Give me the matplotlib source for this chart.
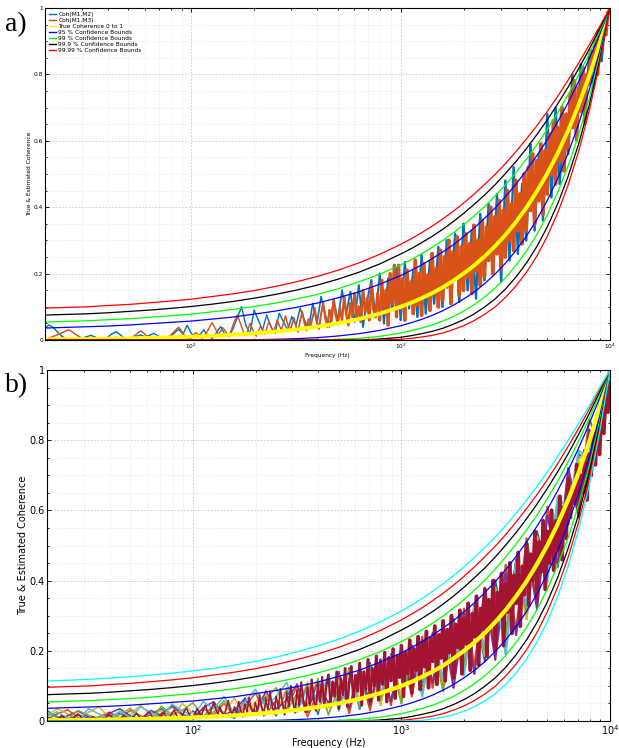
import numpy as np
import matplotlib.pyplot as plt
from matplotlib.collections import LineCollection
from matplotlib.lines import Line2D
from matplotlib.ticker import MultipleLocator, LogLocator, NullFormatter, FuncFormatter

# smooth curves: frequency (Hz) and values in thousandths of coherence
freq = [20, 25, 32, 40, 50, 63, 79, 100, 126, 158, 200, 251, 316, 398, 501, 631, 794,
        1000, 1122, 1259, 1413, 1585, 1778, 1995, 2239, 2512, 2818, 3162, 3548, 3981,
        4467, 5012, 5623, 6310, 7079, 7943, 8913, 10000]
true_coh = [2, 2.5, 3.2, 4, 5, 6.3, 7.9, 10, 12.6, 15.8, 20, 25.1, 31.6, 39.8, 50.1, 63.1,
            79.4, 100, 112, 126, 141, 158, 178, 200, 224, 251, 282, 316, 355, 398, 447,
            501, 562, 631, 708, 794, 891, 1000]

up_95 = [36, 38, 40, 42, 45, 49, 53, 57, 63, 69, 78, 87, 98, 111, 127, 145, 168, 194, 210,
         226, 245, 265, 286, 311, 337, 366, 397, 431, 469, 510, 555, 603, 657, 715, 778,
         846, 920, 1000]
lo_95 = [0] * 10 + [1, 2, 4, 7, 12, 19, 29, 43, 52, 62, 74, 88, 104, 123, 144, 169, 198,
                    231, 269, 312, 362, 420, 486, 563, 650, 751, 867, 1000]
up_99 = [54, 56, 58, 61, 64, 68, 73, 78, 85, 92, 101, 111, 123, 137, 154, 175, 198, 226,
         242, 260, 279, 299, 322, 346, 373, 401, 433, 467, 504, 544, 587, 634, 684, 739,
         798, 861, 929, 1000]
lo_99 = [0] * 14 + [2, 5, 11, 21, 28, 36, 45, 57, 70, 87, 106, 129, 156, 187, 224, 267,
                    317, 376, 445, 524, 618, 726, 853, 1000]
up_999 = [75, 77, 79, 82, 86, 90, 95, 101, 108, 116, 126, 137, 150, 165, 183, 204, 229,
          259, 275, 293, 312, 333, 356, 381, 408, 436, 467, 501, 537, 576, 618, 663, 711,
          762, 817, 875, 937, 1000]
lo_999 = [0] * 16 + [3, 8, 13, 19, 26, 35, 47, 61, 78, 99, 123, 153, 189, 231, 281, 340,
                     410, 493, 590, 705, 841, 1000]
up_9999 = [96, 98, 100, 104, 107, 112, 117, 123, 131, 139, 149, 161, 175, 191, 210, 232,
           258, 288, 305, 323, 343, 364, 387, 412, 439, 468, 498, 531, 567, 605, 645, 688,
           734, 783, 834, 888, 944, 1000]
lo_9999 = [0] * 17 + [2, 5, 9, 14, 21, 31, 43, 58, 77, 99, 128, 162, 203, 252, 312, 383,
                      467, 568, 688, 831, 1000]
up_99999 = [114, 116, 119, 122, 126, 131, 136, 143, 150, 159, 170, 182, 197, 214, 233, 256,
            283, 313, 331, 349, 370, 391, 414, 439, 466, 494, 524, 557, 592, 629, 668, 710,
            754, 800, 848, 898, 950, 1000]
lo_99999 = [0] * 18 + [1, 2, 6, 11, 18, 28, 41, 57, 78, 104, 137, 177, 225, 284, 356, 442,
                       546, 671, 821, 1000]

# estimated coherence, panel a (thousandths), log-spaced 20 Hz .. 10 kHz
coh_m1m3 = [2, 4, 6, 8, 11, 13, 16, 18, 21, 24,
            27, 30, 29, 25, 20, 16, 12, 8, 5, 3,
            2, 1, 1, 2, 4, 6, 5, 3, 2, 1,
            1, 2, 4, 6, 8, 7, 5, 3, 2, 1,
            2, 5, 9, 14, 19, 24, 27, 22, 16, 10,
            5, 3, 2, 4, 8, 6, 3, 2, 5, 9,
            14, 20, 27, 33, 38, 30, 21, 12, 6, 4,
            8, 14, 22, 18, 11, 6, 10, 19, 30, 42,
            52, 40, 27, 18, 26, 37, 30, 20, 12, 28,
            46, 62, 75, 58, 40, 23, 14, 30, 50, 36,
            20, 12, 26, 41, 30, 18, 35, 55, 42, 25,
            38, 60, 44, 30, 52, 72, 48, 28, 45, 66,
            40, 25, 58, 85, 52, 30, 62, 44, 70, 95,
            55, 34, 78, 112, 66, 40, 90, 58, 120, 75,
            48, 95, 60, 130, 80, 45, 110, 70, 140, 62,
            100, 55, 150, 85, 125, 60, 165, 95, 70, 140,
            60, 180, 90, 150, 45, 200, 110, 225, 70, 225,
            95, 185, 60, 210, 120, 175, 80, 240, 105, 200,
            75, 230, 130, 195, 90, 260, 140, 215, 100, 270,
            120, 250, 160, 300, 110, 265, 185, 310, 135, 280,
            150, 320, 190, 290, 140, 345, 210, 300, 165, 360,
            190, 340, 240, 400, 200, 370, 260, 420, 215, 390,
            250, 450, 300, 410, 270, 480, 330, 440, 290, 500,
            330, 520, 390, 560, 350, 540, 420, 590, 380, 570,
            440, 620, 500, 660, 470, 640, 540, 700, 510, 680,
            580, 740, 640, 780, 610, 760, 690, 820, 660, 800,
            770, 870, 820, 900, 800, 930, 880, 960, 920, 985,
            1000]
coh_m1m2 = [36, 45, 38, 25, 12, 4, 1, 1, 2, 6,
            10, 14, 9, 4, 2, 8, 18, 25, 16, 6,
            3, 6, 12, 15, 9, 14, 20, 13, 6, 2,
            8, 22, 32, 18, 44, 20, 8, 16, 30, 12,
            5, 22, 40, 18, 10, 35, 68, 100, 45, 20,
            90, 60, 30, 75, 40, 20, 80, 55, 30, 70,
            45, 95, 60, 35, 110, 50, 130, 75, 40, 120,
            60, 150, 80, 145, 55, 165, 40, 120, 180, 70,
            200, 50, 185, 90, 215, 60, 235, 95, 210, 70,
            255, 80, 240, 110, 280, 100, 300, 140, 320, 115,
            350, 150, 330, 125, 380, 180, 410, 200, 440, 175,
            480, 240, 520, 260, 470, 300, 590, 330, 560, 360,
            680, 430, 700, 470, 650, 560, 800, 600, 830, 650,
            860, 760, 930, 840, 970, 1000]

# estimated coherence, panel b (thousandths)
coh_b7 = [10, 8, 5, 3, 2, 4, 9, 15, 12, 6,
          3, 2, 5, 10, 16, 20, 14, 8, 4, 2,
          3, 7, 12, 9, 5, 2, 1, 4, 8, 13,
          18, 12, 6, 3, 2, 5, 10, 16, 11, 5,
          3, 8, 15, 22, 14, 7, 4, 12, 20, 26,
          17, 9, 5, 3, 10, 18, 25, 15, 7, 12,
          22, 30, 19, 10, 6, 15, 28, 36, 22, 12,
          8, 20, 34, 26, 14, 30, 45, 28, 16, 35,
          52, 34, 18, 40, 24, 12, 36, 58, 30, 20,
          40, 22, 55, 30, 12, 48, 26, 66, 35, 18,
          52, 28, 74, 38, 15, 62, 33, 85, 44, 20,
          70, 36, 92, 48, 18, 80, 42, 100, 55, 24,
          88, 45, 110, 58, 26, 95, 50, 118, 64, 30,
          105, 55, 125, 40, 98, 132, 48, 112, 70, 140,
          35, 120, 75, 150, 42, 110, 155, 60, 130, 85,
          165, 45, 140, 90, 175, 55, 150, 100, 185, 60,
          170, 105, 195, 55, 180, 115, 205, 65, 185, 125,
          215, 70, 195, 135, 230, 80, 205, 145, 240, 90,
          225, 155, 255, 95, 235, 170, 270, 105, 245, 180,
          285, 115, 260, 195, 300, 125, 275, 210, 315, 135,
          290, 220, 335, 145, 305, 240, 355, 160, 320, 260,
          375, 185, 345, 275, 400, 200, 365, 295, 420, 215,
          390, 310, 450, 250, 415, 335, 480, 270, 440, 360,
          505, 330, 475, 400, 540, 350, 510, 425, 570, 375,
          540, 450, 600, 430, 570, 490, 640, 460, 610, 520,
          690, 580, 665, 620, 730, 600, 700, 650, 770, 630,
          760, 700, 820, 730, 850, 760, 880, 820, 920, 880,
          1000]
coh_b1 = [30, 12, 4, 18, 8, 2, 15, 22, 6, 3,
          20, 35, 10, 4, 28, 12, 45, 20, 8, 60,
          25, 70, 15, 90, 30, 105, 20, 125, 40, 150,
          35, 165, 50, 190, 60, 215, 80, 250, 105, 290,
          140, 330, 170, 400, 240, 460, 300, 540, 420, 630,
          560, 760, 740, 900, 1000]
coh_b2 = [5, 20, 32, 10, 3, 12, 25, 8, 30, 15,
          4, 22, 40, 15, 8, 35, 18, 50, 12, 40,
          80, 18, 60, 35, 100, 12, 85, 40, 130, 22,
          140, 30, 175, 45, 200, 70, 240, 95, 275, 120,
          320, 160, 380, 200, 445, 260, 520, 330, 610, 460,
          700, 600, 860, 790, 1000]
coh_b3 = [15, 35, 20, 6, 25, 40, 10, 5, 20, 45,
          15, 30, 8, 50, 22, 10, 40, 25, 65, 15,
          55, 75, 20, 95, 45, 110, 30, 120, 55, 145,
          60, 150, 45, 185, 70, 205, 95, 245, 110, 280,
          150, 325, 185, 380, 225, 445, 290, 525, 410, 615,
          590, 745, 780, 890, 1000]
coh_b4 = [8, 3, 15, 28, 12, 4, 22, 35, 14, 6,
          30, 14, 45, 20, 6, 38, 55, 18, 30, 65,
          20, 85, 35, 60, 105, 25, 115, 50, 140, 35,
          155, 45, 175, 55, 210, 85, 230, 110, 270, 95,
          305, 135, 375, 175, 420, 245, 500, 320, 585, 440,
          720, 580, 830, 800, 1000]
coh_b5 = [22, 10, 5, 30, 16, 8, 3, 18, 36, 12,
          5, 42, 18, 30, 52, 14, 26, 58, 22, 48,
          30, 62, 95, 28, 78, 45, 120, 18, 95, 140,
          40, 160, 65, 180, 50, 200, 100, 235, 85, 265,
          160, 310, 200, 360, 250, 430, 310, 505, 440, 600,
          620, 730, 760, 880, 1000]
coh_b6 = [12, 26, 8, 2, 35, 20, 6, 28, 10, 40,
          24, 8, 48, 30, 12, 55, 35, 70, 20, 55,
          90, 40, 70, 110, 25, 95, 60, 130, 30, 120,
          50, 150, 75, 175, 120, 210, 70, 240, 125, 260,
          130, 320, 210, 370, 190, 450, 330, 510, 400, 640,
          600, 770, 750, 910, 1000]

matlab = ['#0072BD', '#D95319', '#EDB120', '#7E2F8E', '#77AC30', '#4DBEEE', '#A2142F']


def k(v):
    return np.asarray(v, dtype=float) / 1000.0


def noisy_x(v):
    return np.logspace(1.3, 4.0, len(v))


def noisy_line(ax, v, color, lw_lo, lw_hi):
    # the trace gets denser toward high frequency: thicken it there so it reads as a band
    x = noisy_x(v)
    pts = np.column_stack([x, k(v)])
    segs = np.stack([pts[:-1], pts[1:]], axis=1)
    widths = np.interp(np.log10(x[:-1]), [2.4, 3.1], [lw_lo, lw_hi])
    ax.add_collection(LineCollection(segs, colors=color, linewidths=widths,
                                     capstyle='round', joinstyle='round'))


def style(ax, fs):
    ax.set_xscale('log')
    ax.set_xlim(20, 1e4)
    ax.set_ylim(0, 1)
    ax.yaxis.set_major_locator(MultipleLocator(0.2))
    ax.yaxis.set_minor_locator(MultipleLocator(0.05))
    ax.yaxis.set_major_formatter(FuncFormatter(lambda v, p: '%g' % round(v, 2)))
    ax.xaxis.set_minor_locator(LogLocator(base=10, subs=np.arange(2, 10)))
    ax.xaxis.set_minor_formatter(NullFormatter())
    ax.tick_params(which='both', direction='in', top=True, right=True,
                   labelsize=fs, width=0.6, pad=1.5)
    ax.tick_params(which='major', length=3)
    ax.tick_params(which='minor', length=1.5)
    ax.grid(True, which='major', ls=(0, (2, 2)), color='#c8c8c8', lw=0.6)
    ax.grid(True, which='minor', ls=(0, (1, 2)), color='#d8d8d8', lw=0.5)
    ax.set_axisbelow(True)
    for s in ax.spines.values():
        s.set_linewidth(0.8)
    ax.set_xlabel('Frequency (Hz)', fontsize=fs, labelpad=1)
    ax.set_ylabel('True & Estimated Coherence', fontsize=fs, labelpad=1)


def bounds(ax, lw, cyan):
    ax.plot(freq, k(up_95), color='#0000FF', lw=lw)
    ax.plot(freq, k(lo_95), color='#0000FF', lw=lw)
    ax.plot(freq, k(up_99), color='#00FF00', lw=lw)
    ax.plot(freq, k(lo_99), color='#00FF00', lw=lw)
    ax.plot(freq, k(up_999), color='black', lw=lw)
    ax.plot(freq, k(lo_999), color='black', lw=lw)
    ax.plot(freq, k(up_9999), color='#FF0000', lw=lw)
    ax.plot(freq, k(lo_9999), color='#FF0000', lw=lw)
    if cyan:
        ax.plot(freq, k(up_99999), color='#00FFFF', lw=lw)
        ax.plot(freq, k(lo_99999), color='#00FFFF', lw=lw)


fig = plt.figure(figsize=(6.19, 7.48), dpi=100)

# panel a
ax1 = fig.add_axes([45 / 619, 1 - 340 / 748, 565 / 619, 332 / 748])
noisy_line(ax1, coh_m1m2, matlab[0], 1.0, 1.6)
noisy_line(ax1, coh_m1m3, matlab[1], 1.0, 2.6)
ax1.plot(freq, k(true_coh), color='#FFFF00', lw=2.8)
bounds(ax1, 0.9, False)
style(ax1, 4.2)
legend_items = [('Coh(M1,M2)', matlab[0]), ('Coh(M1,M3)', matlab[1]),
                ('True Coherence 0 to 1', '#FFFF00'), ('95 % Confidence Bounds', '#0000FF'),
                ('99 % Confidence Bounds', '#00FF00'), ('99.9 % Confidence Bounds', 'black'),
                ('99.99 % Confidence Bounds', '#FF0000')]
ax1.legend([Line2D([], [], color=c, lw=1) for _, c in legend_items],
           [t for t, _ in legend_items], loc='upper left', fontsize=4.2, frameon=False,
           handlelength=1.2, handletextpad=0.4, labelspacing=0.15, borderaxespad=0.3)

# panel b
ax2 = fig.add_axes([47 / 619, 1 - 721 / 748, 563 / 619, 351 / 748])
for c, v in zip(matlab[:6], [coh_b1, coh_b2, coh_b3, coh_b4, coh_b5, coh_b6]):
    noisy_line(ax2, v, c, 1.1, 1.5)
noisy_line(ax2, coh_b7, matlab[6], 1.1, 2.6)
ax2.plot(freq, k(true_coh), color='#FFFF00', lw=3.0)
bounds(ax2, 0.9, True)
style(ax2, 7)

fig.text(0.008, 0.967, 'a)', fontsize=20, family='Liberation Serif', va='center')
fig.text(0.008, 0.485, 'b)', fontsize=20, family='Liberation Serif', va='center')

fig.savefig('out.png', dpi=100)
